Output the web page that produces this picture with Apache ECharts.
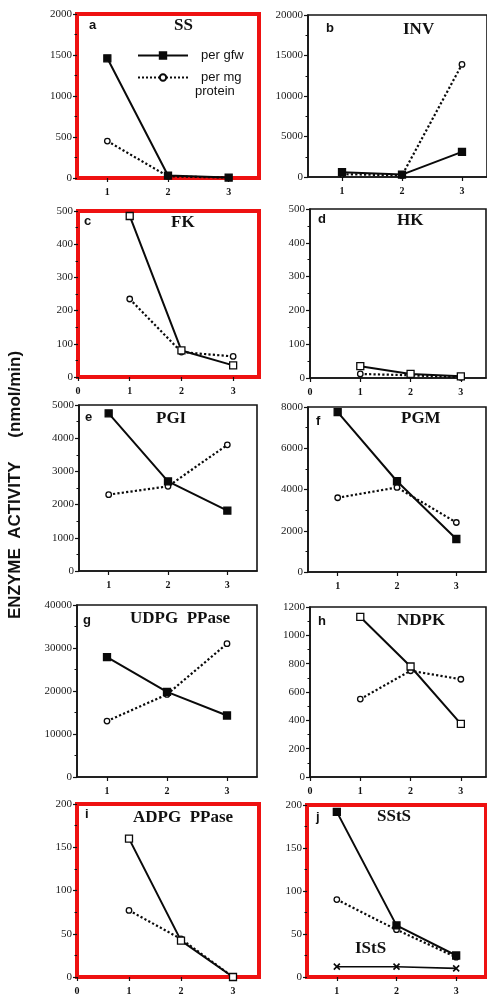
<!DOCTYPE html>
<html>
<head>
<meta charset="utf-8">
<script src="https://cdn.jsdelivr.net/npm/echarts@6/dist/echarts.min.js"></script>
<style>
  html, body { margin: 0; padding: 0; background: #fff; }
  #chart { width: 487px; height: 998px; }
</style>
</head>
<body>
<div id="chart"></div>
<script>
// ---- data ----
const stages = [1, 2, 3];
const xTicksA = [1, 2, 3];
const xTicksB = [0, 1, 2, 3];

const panelLetters = ['a', 'b', 'c', 'd', 'e', 'f', 'g', 'h', 'i', 'j'];
const panelNames = ['SS', 'INV', 'FK', 'HK', 'PGI', 'PGM', 'UDPG  PPase', 'NDPK', 'ADPG  PPase', 'SStS'];

const ssGfw = [1460, 30, 5];
const ssProt = [450, 20, 5];
const invGfw = [600, 300, 3100];
const invProt = [350, 200, 13900];
const fkGfw = [485, 80, 35];
const fkProt = [235, 75, 62];
const hkGfw = [35, 12, 5];
const hkProt = [12, 8, 2];
const pgiGfw = [4750, 2700, 1820];
const pgiProt = [2300, 2550, 3800];
const pgmGfw = [7750, 4400, 1600];
const pgmProt = [3600, 4100, 2400];
const udpgGfw = [27900, 19800, 14300];
const udpgProt = [13000, 19200, 31000];
const ndpkGfw = [1130, 780, 375];
const ndpkProt = [550, 750, 690];
const adpgGfw = [160, 42, 0];
const adpgProt = [77, 44, 0];
const sstsGfw = [192, 60, 25];
const sstsProt = [90, 55, 23];
const istsVals = [12, 12, 10];

const yMaxes = [2000, 20000, 500, 500, 5000, 8000, 40000, 1200, 200, 200];
const yIntervals = [500, 5000, 100, 100, 1000, 2000, 10000, 200, 50, 50];

const gfwSets = [ssGfw, invGfw, fkGfw, hkGfw, pgiGfw, pgmGfw, udpgGfw, ndpkGfw, adpgGfw, sstsGfw];
const protSets = [ssProt, invProt, fkProt, hkProt, pgiProt, pgmProt, udpgProt, ndpkProt, adpgProt, sstsProt];

// ---- layout / style (not data) ----
const layout = [
  { l: 77,  t: 14,  w: 182, h: 164, red: true,  zeroAxis: false, filled: true },
  { l: 308, t: 15,  w: 179, h: 162, red: false, zeroAxis: false, filled: true, xMin: 0.433, xMax: 3.417 },
  { l: 78,  t: 211, w: 181, h: 166, red: true,  zeroAxis: true,  filled: false },
  { l: 310, t: 209, w: 176, h: 169, red: false, zeroAxis: true,  filled: false },
  { l: 79,  t: 405, w: 178, h: 166, red: false, zeroAxis: false, filled: true },
  { l: 308, t: 407, w: 178, h: 165, red: false, zeroAxis: false, filled: true },
  { l: 77,  t: 605, w: 180, h: 172, red: false, zeroAxis: false, filled: true },
  { l: 310, t: 607, w: 176, h: 170, red: false, zeroAxis: true,  filled: false },
  { l: 77,  t: 804, w: 182, h: 173, red: true,  zeroAxis: true,  filled: false },
  { l: 307, t: 805, w: 179, h: 172, red: true,  zeroAxis: false, filled: true }
];
const letterPos = [[89,19],[326,22],[84,215],[318,213],[85,411],[316,415],[83,614],[318,615],[85,808],[316,811]];
const namePos = [[174,17],[403,21],[171,214],[397,212],[156,410],[401,410],[130,610],[397,612],[133,809],[377,808]];

const RED = '#ee1111';
const grids = [], xAxes = [], yAxes = [], series = [], titles = [];

layout.forEach((p, i) => {
  const borderColor = p.red ? RED : '#151515';
  grids.push({
    left: p.l, top: p.t, width: p.w, height: p.h,
    show: true, borderColor: borderColor, borderWidth: p.red ? 4 : 1.6,
    backgroundColor: 'transparent', containLabel: false
  });
  const ticks = p.zeroAxis ? xTicksB : xTicksA;
  xAxes.push({
    type: 'value', gridIndex: i,
    min: p.xMin !== undefined ? p.xMin : (p.zeroAxis ? 0 : 0.5),
    max: p.xMax || 3.5,
    splitLine: { show: false },
    axisLine: { show: true, onZero: false, lineStyle: { color: p.red ? RED : '#151515', width: p.red ? 4 : 1.6 } },
    axisTick: { show: true, customValues: ticks, length: 4, lineStyle: { color: '#111', width: 1.2 } },
    axisLabel: {
      customValues: ticks, margin: 9,
      fontFamily: 'Liberation Serif', fontWeight: 'bold', fontSize: 10, color: '#111'
    }
  });
  yAxes.push({
    type: 'value', gridIndex: i,
    min: 0, max: yMaxes[i], interval: yIntervals[i],
    splitLine: { show: false },
    axisLine: { show: true, lineStyle: { color: p.red ? RED : '#151515', width: p.red ? 4 : 1.6 } },
    axisTick: { show: true, length: 4, lineStyle: { color: '#111', width: 1.2 } },
    minorTick: { show: true, splitNumber: 2, length: 2.5, lineStyle: { color: '#111', width: 1 } },
    axisLabel: {
      margin: 5, fontFamily: 'Liberation Serif', fontSize: 11, color: '#1a1a1a',
      formatter: v => String(v)
    }
  });

  series.push({
    name: 'per gfw', type: 'line', xAxisIndex: i, yAxisIndex: i,
    data: stages.map((s, k) => [s, gfwSets[i][k]]),
    clip: false,
    lineStyle: { color: '#0a0a0a', width: 2, type: 'solid' },
    symbol: 'rect', symbolSize: 7,
    itemStyle: { color: p.filled ? '#0a0a0a' : '#fff', borderColor: '#0a0a0a', borderWidth: 1.3 },
    z: 4
  });
  series.push({
    name: 'per mg protein', type: 'line', xAxisIndex: i, yAxisIndex: i,
    data: stages.map((s, k) => [s, protSets[i][k]]),
    clip: false,
    lineStyle: { color: '#0a0a0a', width: 2.2, type: 'dotted' },
    symbol: 'circle', symbolSize: 5.5,
    itemStyle: { color: '#fff', borderColor: '#0a0a0a', borderWidth: 1.3 },
    z: 3
  });

  titles.push({
    text: panelLetters[i], left: letterPos[i][0], top: letterPos[i][1], padding: 0,
    textStyle: { fontFamily: 'Liberation Sans', fontWeight: 'bold', fontSize: 13, color: '#111' }
  });
  titles.push({
    text: panelNames[i], left: namePos[i][0], top: namePos[i][1], padding: 0,
    textStyle: { fontFamily: 'Liberation Serif', fontWeight: 'bold', fontSize: 17, color: '#111' }
  });
});

// IStS series in panel j
series.push({
  name: 'IStS', type: 'line', xAxisIndex: 9, yAxisIndex: 9,
  data: stages.map((s, k) => [s, istsVals[k]]),
  clip: false,
  lineStyle: { color: '#0a0a0a', width: 1.6 },
  symbol: 'path://M0,0L10,10M10,0L0,10', symbolSize: 6,
  itemStyle: { color: 'none', borderColor: '#0a0a0a', borderWidth: 1.6 },
  z: 4
});
titles.push({
  text: 'IStS', left: 355, top: 940, padding: 0,
  textStyle: { fontFamily: 'Liberation Serif', fontWeight: 'bold', fontSize: 17, color: '#111' }
});

const chart = echarts.init(document.getElementById('chart'), null, { renderer: 'canvas' });
chart.setOption({
  animation: false,
  backgroundColor: '#fff',
  title: titles,
  grid: grids,
  xAxis: xAxes,
  yAxis: yAxes,
  series: series,
  legend: {
    data: ['per gfw', 'per mg protein'],
    left: 132, top: 44, orient: 'vertical',
    itemWidth: 50, itemHeight: 8, itemGap: 9,
    selectedMode: false,
    formatter: n => (n === 'per mg protein' ? 'per mg' : n),
    textStyle: { fontFamily: 'Liberation Sans', fontSize: 13, color: '#111', padding: [0, 0, 0, 8] }
  },
  graphic: [
    {
      type: 'text', left: 195, top: 85,
      style: { text: 'protein', font: '13px "Liberation Sans"', fill: '#111' }
    },
    {
      type: 'text', x: 15, y: 485, rotation: Math.PI / 2,
      style: {
        text: 'ENZYME  ACTIVITY     (nmol/min)',
        font: 'bold 17px "Liberation Sans"', fill: '#111',
        textAlign: 'center', textVerticalAlign: 'middle'
      }
    }
  ]
});
</script>
</body>
</html>
